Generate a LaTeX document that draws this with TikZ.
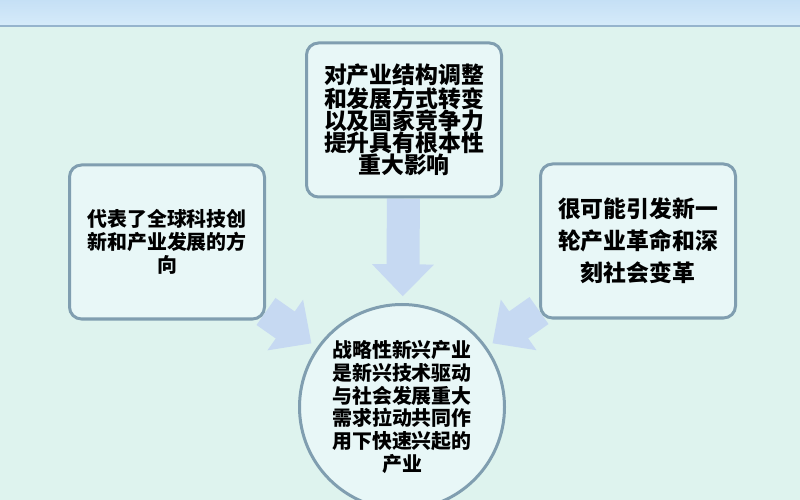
\documentclass[tikz,border=0pt]{standalone}
\usepackage{fontspec}
\usepackage{tikz}
\usetikzlibrary{arrows.meta,backgrounds}
\newfontfamily\cjk{Noto Sans CJK SC}
\definecolor{bg_mint}{RGB}{222,243,238}
\definecolor{box_fill}{RGB}{232,247,247}
\definecolor{box_edge}{RGB}{128,158,176}
\definecolor{arrow_blue}{RGB}{198,217,242}
\definecolor{bar_top}{RGB}{178,211,240}
\definecolor{bar_bot}{RGB}{214,235,250}
\definecolor{bar_edge}{RGB}{150,180,205}

\begin{document}
\begin{tikzpicture}[x=0.3mm,y=-0.3mm]
    \tikzstyle{box}=[draw=box_edge, line width=0.9mm, fill=box_fill, rounded corners=3.6mm, minimum width=58.5mm, minimum height=46.2mm, align=center, text=black, inner sep=0pt]
    \tikzstyle{hub}=[draw=box_edge, line width=0.9mm, fill=box_fill, circle, minimum size=61.5mm, align=center, text=black, inner sep=0pt]
    \tikzstyle{big}=[font=\cjk\bfseries\fontsize{19.5}{19}\selectfont]
    \tikzstyle{small}=[font=\cjk\bfseries\fontsize{17}{19.6}\selectfont]
    \tikzstyle{wide}=[font=\cjk\bfseries\fontsize{19.5}{27.3}\selectfont]
    \tikzstyle{blockarrow}=[draw=arrow_blue, line width=9.9mm, -{Triangle[width=18mm,length=9.6mm]}, shorten >=2mm]

    \useasboundingbox (0,0) rectangle (800,500);
    \clip (0,0) rectangle (800,500);

    % title bar
    \shade[top color=bar_top, bottom color=bar_bot, draw=bar_edge, line width=0.5mm, rounded corners=2mm] (-10,-30) rectangle (810,26);

    \node[box,big]   (tp)  at (404,120) {对产业结构调整\\和发展方式转变\\以及国家竞争力\\提升具有根本性\\重大影响};
    \node[box,small] (lf)  at (167,242) {代表了全球科技创\\新和产业发展的方\\向};
    \node[box,wide]  (rt)  at (638,241) {很可能引发新一\\轮产业革命和深\\刻社会变革};
    \node[hub,small] (ctr) at (402,407) {战略性新兴产业\\是新兴技术驱动\\与社会发展重大\\需求拉动共同作\\用下快速兴起的\\产业};

    \begin{scope}[on background layer]
    \fill[bg_mint] (0,0) rectangle (800,500);
    \path
     (tp) edge[blockarrow] (ctr)
     (lf) edge[blockarrow] (ctr)
     (rt) edge[blockarrow] (ctr)
     ;
    \end{scope}
\end{tikzpicture}
\end{document}
